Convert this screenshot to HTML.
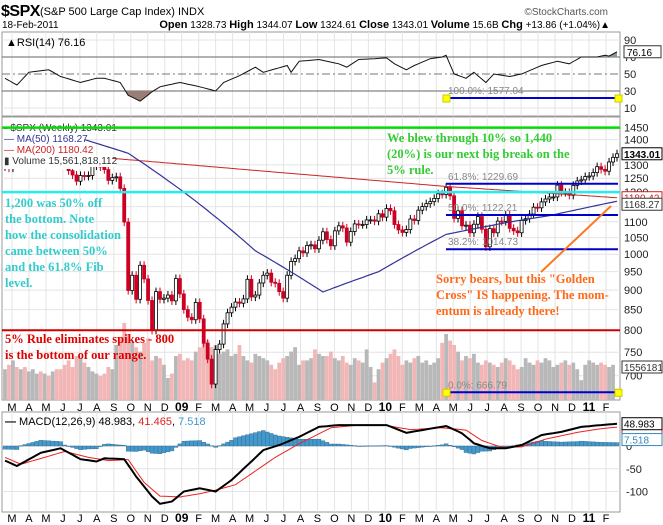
<!DOCTYPE html>
<html><head><meta charset="utf-8">
<style>
html,body{margin:0;padding:0;background:#fff;}
svg{display:block;font-family:"Liberation Sans",sans-serif;}
.ax{font-size:11px;fill:#222;}
.ann{font-family:"Liberation Serif",serif;font-weight:bold;font-size:12.5px;}
</style></head>
<body>
<svg id="c" width="663" height="525" viewBox="0 0 663 525" xmlns="http://www.w3.org/2000/svg">
<g id="hdr">
<text x="1" y="16" font-size="16" font-weight="bold" letter-spacing="-0.5">$SPX</text>
<text x="40" y="15" font-size="11">(S&amp;P 500 Large Cap Index) INDX</text>
<text x="608" y="15" font-size="10" fill="#555" text-anchor="end">©StockCharts.com</text>
<text x="2" y="28" font-size="10">18-Feb-2011</text>
<text x="610" y="28" font-size="10" text-anchor="end"><tspan font-weight="bold" font-size="11">Open</tspan> 1328.73 <tspan font-weight="bold" font-size="11">High</tspan> 1344.07 <tspan font-weight="bold" font-size="11">Low</tspan> 1324.61 <tspan font-weight="bold" font-size="11">Close</tspan> 1343.01 <tspan font-weight="bold" font-size="11">Volume</tspan> 15.6B <tspan font-weight="bold" font-size="11">Chg</tspan> +13.86 (+1.04%)▲</text>
</g>
<g id="rsiP"></g>
<g id="mainP"></g>
<g id="macdP"></g>
</svg>
<script>
const closes=[1293,1288,1330,1316,1370,1332,1390,1398,1413,1388,1425,1375,1400,1361,1360,1318,
1278,1262,1239,1260,1257,1260,1296,1298,1292,1282,1242,1252,1255,1213,1099,899,940,876,968,930,873,800,896,876,879,887,872,
931,890,850,831,825,868,827,770,735,683,756,768,815,842,856,869,866,877,929,882,887,919,940,946,921,918,896,879,940,979,987,1010,1004,1026,1028,1016,1042,1068,1044,1025,1071,1087,1080,1036,1069,1093,1091,1091,1106,1106,1102,1126,1115,
1144,1136,1091,1074,1066,1075,1109,1104,1138,1150,1160,1167,1178,1194,1192,1217,1187,1111,1136,1087,1089,1065,1092,1117,1076,1022,1078,1065,1102,1101,1122,1079,1071,1065,1104,1110,1125,1148,1146,1166,1176,1183,1183,1225,1199,1199,1189,1224,1240,1244,1256,1258,
1271,1293,1283,1276,1311,1329,1343];
const volume=[14,16,18,15,14,15,13,14,12,13,12,11,13,14,14,16,
18,15,20,19,17,15,13,12,11,12,15,14,25,
28,35,30,26,24,22,26,28,18,20,19,16,10,
12,20,21,18,19,18,22,24,26,27,24,25,21,
22,23,20,21,25,20,18,17,21,20,19,18,16,
14,17,19,20,22,24,16,18,18,19,23,21,20,
20,22,19,18,20,17,16,19,18,17,23,15,8,
14,17,19,21,23,20,16,18,17,19,20,17,18,
16,17,19,26,30,27,25,22,18,20,19,21,17,
16,18,17,16,15,17,19,18,16,14,15,19,17,
16,18,17,19,18,15,16,17,18,16,17,14,9,
16,18,17,16,17,16,15,16];
const ma50Week=[20,31,45,63,80,94,111,126,137,154];
const ma50Val=[1400,1345,1200,1010,895,950,1060,1097,1120,1168.27];
const ma200Week=[27,70,111,154];
const ma200Val=[1325,1270,1220,1180.42];
const rsiWeek=[0,3,6,11,14,19,23,25,29,31,34,37,39,44,49,53,55,59,63,65,71,72,74,79,84,86,89,93,96,98,101,103,107,110,111,113,116,118,121,123,127,130,135,139,142,145,149,151,152,154];
const rsiVal=[45,37,52,55,47,40,45,45,40,25,18,29,35,40,35,30,40,48,58,52,60,52,65,67,62,58,67,68,69,62,55,60,68,70,72,50,45,52,40,50,47,50,60,65,62,70,70,72,71,76.16];
const macdWeek=[0,3,9,14,19,23,25,30,33,37,39,42,45,49,53,57,62,65,69,74,79,84,89,96,101,105,111,115,118,122,126,130,135,140,145,150,154];
const macdVal=[-32,-44,-15,-5,-29,-34,-27,-29,-67,-111,-127,-122,-100,-93,-100,-75,-34,-9,2,20,42,46,46,46,29,35,44,28,6,-5,-5,2,24,31,42,46,48.98];
const sigWeek=[0,4,10,15,21,26,31,35,39,44,49,53,58,63,68,74,82,89,96,102,110,116,120,125,130,136,144,150,154];
const sigVal=[-25,-40,-25,-12,-25,-32,-30,-80,-110,-112,-105,-97,-85,-55,-25,5,40,46,45,36,40,35,12,-3,-2,15,30,38,41.47];
const priceTicks=[1450,1400,1300,1250,1200,1150,1100,1050,1000,950,900,850,800,750,700];
const rsiTicks=[90,70,50,30,10];
const macdTicks=[0,-50,-100];
const monthLabels=["M","A","M","J","J","A","S","O","N","D","09","F","M","A","M","J","J","A","S","O","N","D","10","F","M","A","M","J","J","A","S","O","N","D","11","F"];
const fibLabels=["100.0%: 1577.04","61.8%: 1229.69","50.0%: 1122.21","38.2%: 1014.73","0.0%: 666.79"];
const fibVals=[1577.04,1229.69,1122.21,1014.73,666.79];

const NS="http://www.w3.org/2000/svg";
const L=2,R=620,N=closes.length;
const xW=i=>5+i*(617-5)/(N-1);
const xM=m=>12+m*16.97;
const yP=p=>375.7-340.6*Math.log(p/700);
const yR=v=>57+(70-v)*0.85;
const yM=v=>446-v*0.455;
function mk(tag,attrs,parent,text){const e=document.createElementNS(NS,tag);for(const k in attrs)e.setAttribute(k,attrs[k]);if(text!==undefined)e.textContent=text;parent.appendChild(e);return e;}
function interp(ws,vs,w){if(w<=ws[0])return vs[0];for(let k=1;k<ws.length;k++){if(w<=ws[k]){const t=(w-ws[k-1])/(ws[k]-ws[k-1]);return vs[k-1]+t*(vs[k]-vs[k-1]);}}return vs[vs.length-1];}
function pathFromKnots(ws,vs,yf,step){let d="";for(let w=ws[0];w<=ws[ws.length-1]+0.001;w+=step){d+=(d?"L":"M")+xW(w).toFixed(1)+","+yf(interp(ws,vs,w)).toFixed(1);}return d;}

const rsiP=document.getElementById('rsiP'),mainP=document.getElementById('mainP'),macdP=document.getElementById('macdP');
let e;
// ===== RSI =====
e=mk('rect',{x:L,y:32,width:R-L,height:84,fill:'#fff',stroke:'#999'},rsiP);

monthLabels.forEach((lb,m)=>{e=mk('line',{x1:xM(m),x2:xM(m),y1:32,y2:116,stroke:'#e4e4e4'},rsiP);});
rsiTicks.forEach(v=>{
 const st=(v===70||v===30)?'#666':(v===50?'#777':'#e4e4e4');
 e=mk('line',{x1:L,x2:R,y1:yR(v),y2:yR(v),stroke:st,'stroke-dasharray':v===50?'8,3,2,3':'none'},rsiP);
 
 e=mk('text',{x:624,y:yR(v)+4,class:'ax'},rsiP,String(v));
 
});
const rsiD=pathFromKnots(rsiWeek,rsiVal,yR,1);
const defs=mk('defs',{},document.getElementById('c'));
const cp1=mk('clipPath',{id:'below30'},defs);mk('rect',{x:0,y:yR(30),width:663,height:40},cp1);
const cp2=mk('clipPath',{id:'above70'},defs);mk('rect',{x:0,y:0,width:663,height:yR(70)},cp2);
e=mk('path',{d:rsiD+"L"+xW(154)+","+yR(30)+"L"+xW(0)+","+yR(30)+"Z",fill:'#9a7d75','clip-path':'url(#below30)'},rsiP);

e=mk('path',{d:rsiD+"L"+xW(154)+","+yR(70)+"L"+xW(0)+","+yR(70)+"Z",fill:'#8a9a8a','clip-path':'url(#above70)'},rsiP);

e=mk('path',{d:rsiD,fill:'none',stroke:'#111','stroke-width':1},rsiP);

e=mk('text',{x:6,y:46,'font-size':11},rsiP,"▲RSI(14) 76.16");

e=mk('rect',{x:624,y:yR(76.16)-6,width:37,height:12,fill:'#fff',stroke:'#333'},rsiP);

e=mk('text',{x:627,y:yR(76.16)+4,'font-size':10},rsiP,"76.16");

e=mk('line',{x1:446,x2:618,y1:98,y2:98,stroke:'#0000cc','stroke-width':2},rsiP);

e=mk('text',{x:448,y:94,'font-size':10,fill:'#888'},rsiP,fibLabels[0]);

[446,618].forEach(x=>{e=mk('rect',{x:x-3,y:95,width:7,height:7,fill:'#ffff00',stroke:'#cc0'},rsiP);});

// ===== MAIN =====
e=mk('rect',{x:L,y:117,width:R-L,height:283,fill:'#fff',stroke:'#999'},mainP);

monthLabels.forEach((lb,m)=>{e=mk('line',{x1:xM(m),x2:xM(m),y1:117,y2:400,stroke:'#e4e4e4'},mainP);});
priceTicks.forEach(p=>{
 e=mk('line',{x1:L,x2:R,y1:yP(p),y2:yP(p),stroke:'#e4e4e4'},mainP);
 
 e=mk('text',{x:624,y:yP(p)+4,class:'ax'},mainP,String(p));
 
});
for(let i=0;i<N;i++){
 const v=volume[i]; if(v===undefined)continue;
 const h=v*2.2, up=i===0||closes[i]>=closes[i-1];
 e=mk('rect',{x:xW(i)-1.9,y:400-h,width:3.8,height:h,fill:up?'#b8b8b8':'#f2b6b6'},mainP);
 
}
for(let i=0;i<N;i++){
 const c=closes[i],o=i===0?c:closes[i-1];
 const hi=Math.max(o,c)*1.012,lo=Math.min(o,c)*0.988;
 const up=c>=o,x=xW(i);
 e=mk('line',{x1:x,x2:x,y1:yP(hi),y2:yP(lo),stroke:up?'#000':'#cc0022'},mainP);
 
 const yt=yP(Math.max(o,c)),yb=yP(Math.min(o,c));
 e=mk('rect',{x:x-1.5,y:yt,width:3,height:Math.max(1,yb-yt),fill:up?'#fff':'#cc0022',stroke:up?'#000':'#cc0022','stroke-width':0.8},mainP);
 
}
// legend background (covers early candles)
e=mk('rect',{x:3,y:118,width:84,height:51,fill:'#fff'},mainP);

e=mk('rect',{x:3,y:156,width:114,height:11,fill:'#fff'},mainP);

e=mk('rect',{x:3,y:123,width:118,height:11,fill:'#fff'},mainP);

e=mk('path',{d:pathFromKnots(ma200Week,ma200Val,yP,1),fill:'none',stroke:'#cc2222','stroke-width':1},mainP);

e=mk('path',{d:pathFromKnots(ma50Week,ma50Val,yP,1),fill:'none',stroke:'#333399','stroke-width':1.2},mainP);

[["▪ $SPX (Weekly) 1343.01","#333",131],["— MA(50) 1168.27","#333399",142],["— MA(200) 1180.42","#cc2222",153],["▮ Volume 15,561,818,112","#333",164]].forEach(l=>{
 e=mk('text',{x:4,y:l[2],'font-size':10,fill:l[1]},mainP,l[0]);
 
});
e=mk('line',{x1:L,x2:R,y1:yP(1450),y2:yP(1450),stroke:'#00dd00','stroke-width':2.5},mainP);

e=mk('line',{x1:L,x2:R,y1:yP(1200),y2:yP(1200),stroke:'#22eeee','stroke-width':2.5},mainP);

e=mk('line',{x1:L,x2:R,y1:yP(800),y2:yP(800),stroke:'#d00000','stroke-width':2},mainP);

for(let k=1;k<fibVals.length;k++){
 e=mk('line',{x1:446,x2:618,y1:yP(fibVals[k]),y2:yP(fibVals[k]),stroke:'#0000cc','stroke-width':2},mainP);
 
 e=mk('text',{x:448,y:yP(fibVals[k])-4,'font-size':10,fill:'#888'},mainP,fibLabels[k]);
 
}
[446,618].forEach(x=>{e=mk('rect',{x:x-3,y:yP(666.79)-3,width:7,height:7,fill:'#ffff00',stroke:'#cc0'},mainP);});
e=mk('line',{x1:541,y1:272,x2:611,y2:206,stroke:'#ff7722','stroke-width':2},mainP);

function ann(lines,x,y0,col,name){lines.forEach((t,k)=>{e=mk('text',{x:x,y:y0+k*16,class:'ann',fill:col},mainP,t);});}
ann(["We blew through 10% so 1,440","(20%) is our next big break on the","5% rule."],387,142,'#33cc33','green-annotation');
ann(["1,200 was 50% off","the bottom. Note","how the consolidation","came between 50%","and the 61.8% Fib","level."],5,207,'#33cccc','cyan-annotation');
ann(["5% Rule eliminates spikes - 800","is the bottom of our range."],5,343,'#e00000','red-annotation');
ann(["Sorry bears, but this \"Golden","Cross\" IS happening.  The mom-","entum is already there!"],436,283,'#ff6a1a','orange-annotation');
function tag(x,y,txt,col,bold,name,parent){e=mk('rect',{x:x,y:y-6,width:40,height:12,fill:'#fff',stroke:col},parent);
 e=mk('text',{x:x+2,y:y+4,'font-size':10,'font-weight':bold?'bold':'normal',fill:col},parent,txt);}
tag(622,yP(1180.42),"1180.42","#cc2222",false,'ma200-tag',mainP);
tag(622,yP(1168.27)+3,"1168.27","#333",false,'ma50-tag',mainP);
tag(622,yP(1343.01),"1343.01","#000",true,'close-tag',mainP);
tag(622,367,"1556181","#333",false,'volume-tag',mainP);
function months(y,parent){monthLabels.forEach((lb,m)=>{const yr=lb.length===2;e=mk('text',{x:xM(m),y:y,'text-anchor':'middle','font-size':yr?12:11,'font-weight':yr?'bold':'normal'},parent,lb);});}
months(411,mainP);

// ===== MACD =====
e=mk('rect',{x:L,y:412,width:R-L,height:100,fill:'#fff',stroke:'#999'},macdP);

monthLabels.forEach((lb,m)=>{e=mk('line',{x1:xM(m),x2:xM(m),y1:412,y2:512,stroke:'#e4e4e4'},macdP);});
macdTicks.forEach(v=>{
 e=mk('line',{x1:L,x2:R,y1:yM(v),y2:yM(v),stroke:'#e4e4e4'},macdP);
 
 e=mk('text',{x:626,y:yM(v)+4,class:'ax'},macdP,String(v));
 
});
for(let i=0;i<N;i++){
 const h=interp(macdWeek,macdVal,i)-interp(sigWeek,sigVal,i);
 const y0=yM(0),y1=yM(h);
 e=mk('rect',{x:xW(i)-2,y:Math.min(y0,y1),width:4,height:Math.max(0.5,Math.abs(y1-y0)),fill:'#4499cc',stroke:'#336688','stroke-width':0.4},macdP);
 
}
e=mk('path',{d:pathFromKnots(sigWeek,sigVal,yM,1),fill:'none',stroke:'#ee2222','stroke-width':1},macdP);

e=mk('path',{d:pathFromKnots(macdWeek,macdVal,yM,1),fill:'none',stroke:'#000','stroke-width':2},macdP);

e=mk('text',{x:5,y:425,'font-size':11},macdP);

e.innerHTML='<tspan font-weight="bold">—</tspan> MACD(12,26,9) 48.983, <tspan fill="#dd2222">41.465</tspan>, <tspan fill="#4499cc">7.518</tspan>';
tag(622,yM(41.47)+3,"","#cc2222",false,'signal-tag',macdP);
tag(622,yM(48.98),"48.983","#000",false,'macd-tag',macdP);
tag(622,yM(7.518)-3,"7.518","#3388bb",false,'histogram-tag',macdP);
months(522,macdP);
</script>
</body></html>
